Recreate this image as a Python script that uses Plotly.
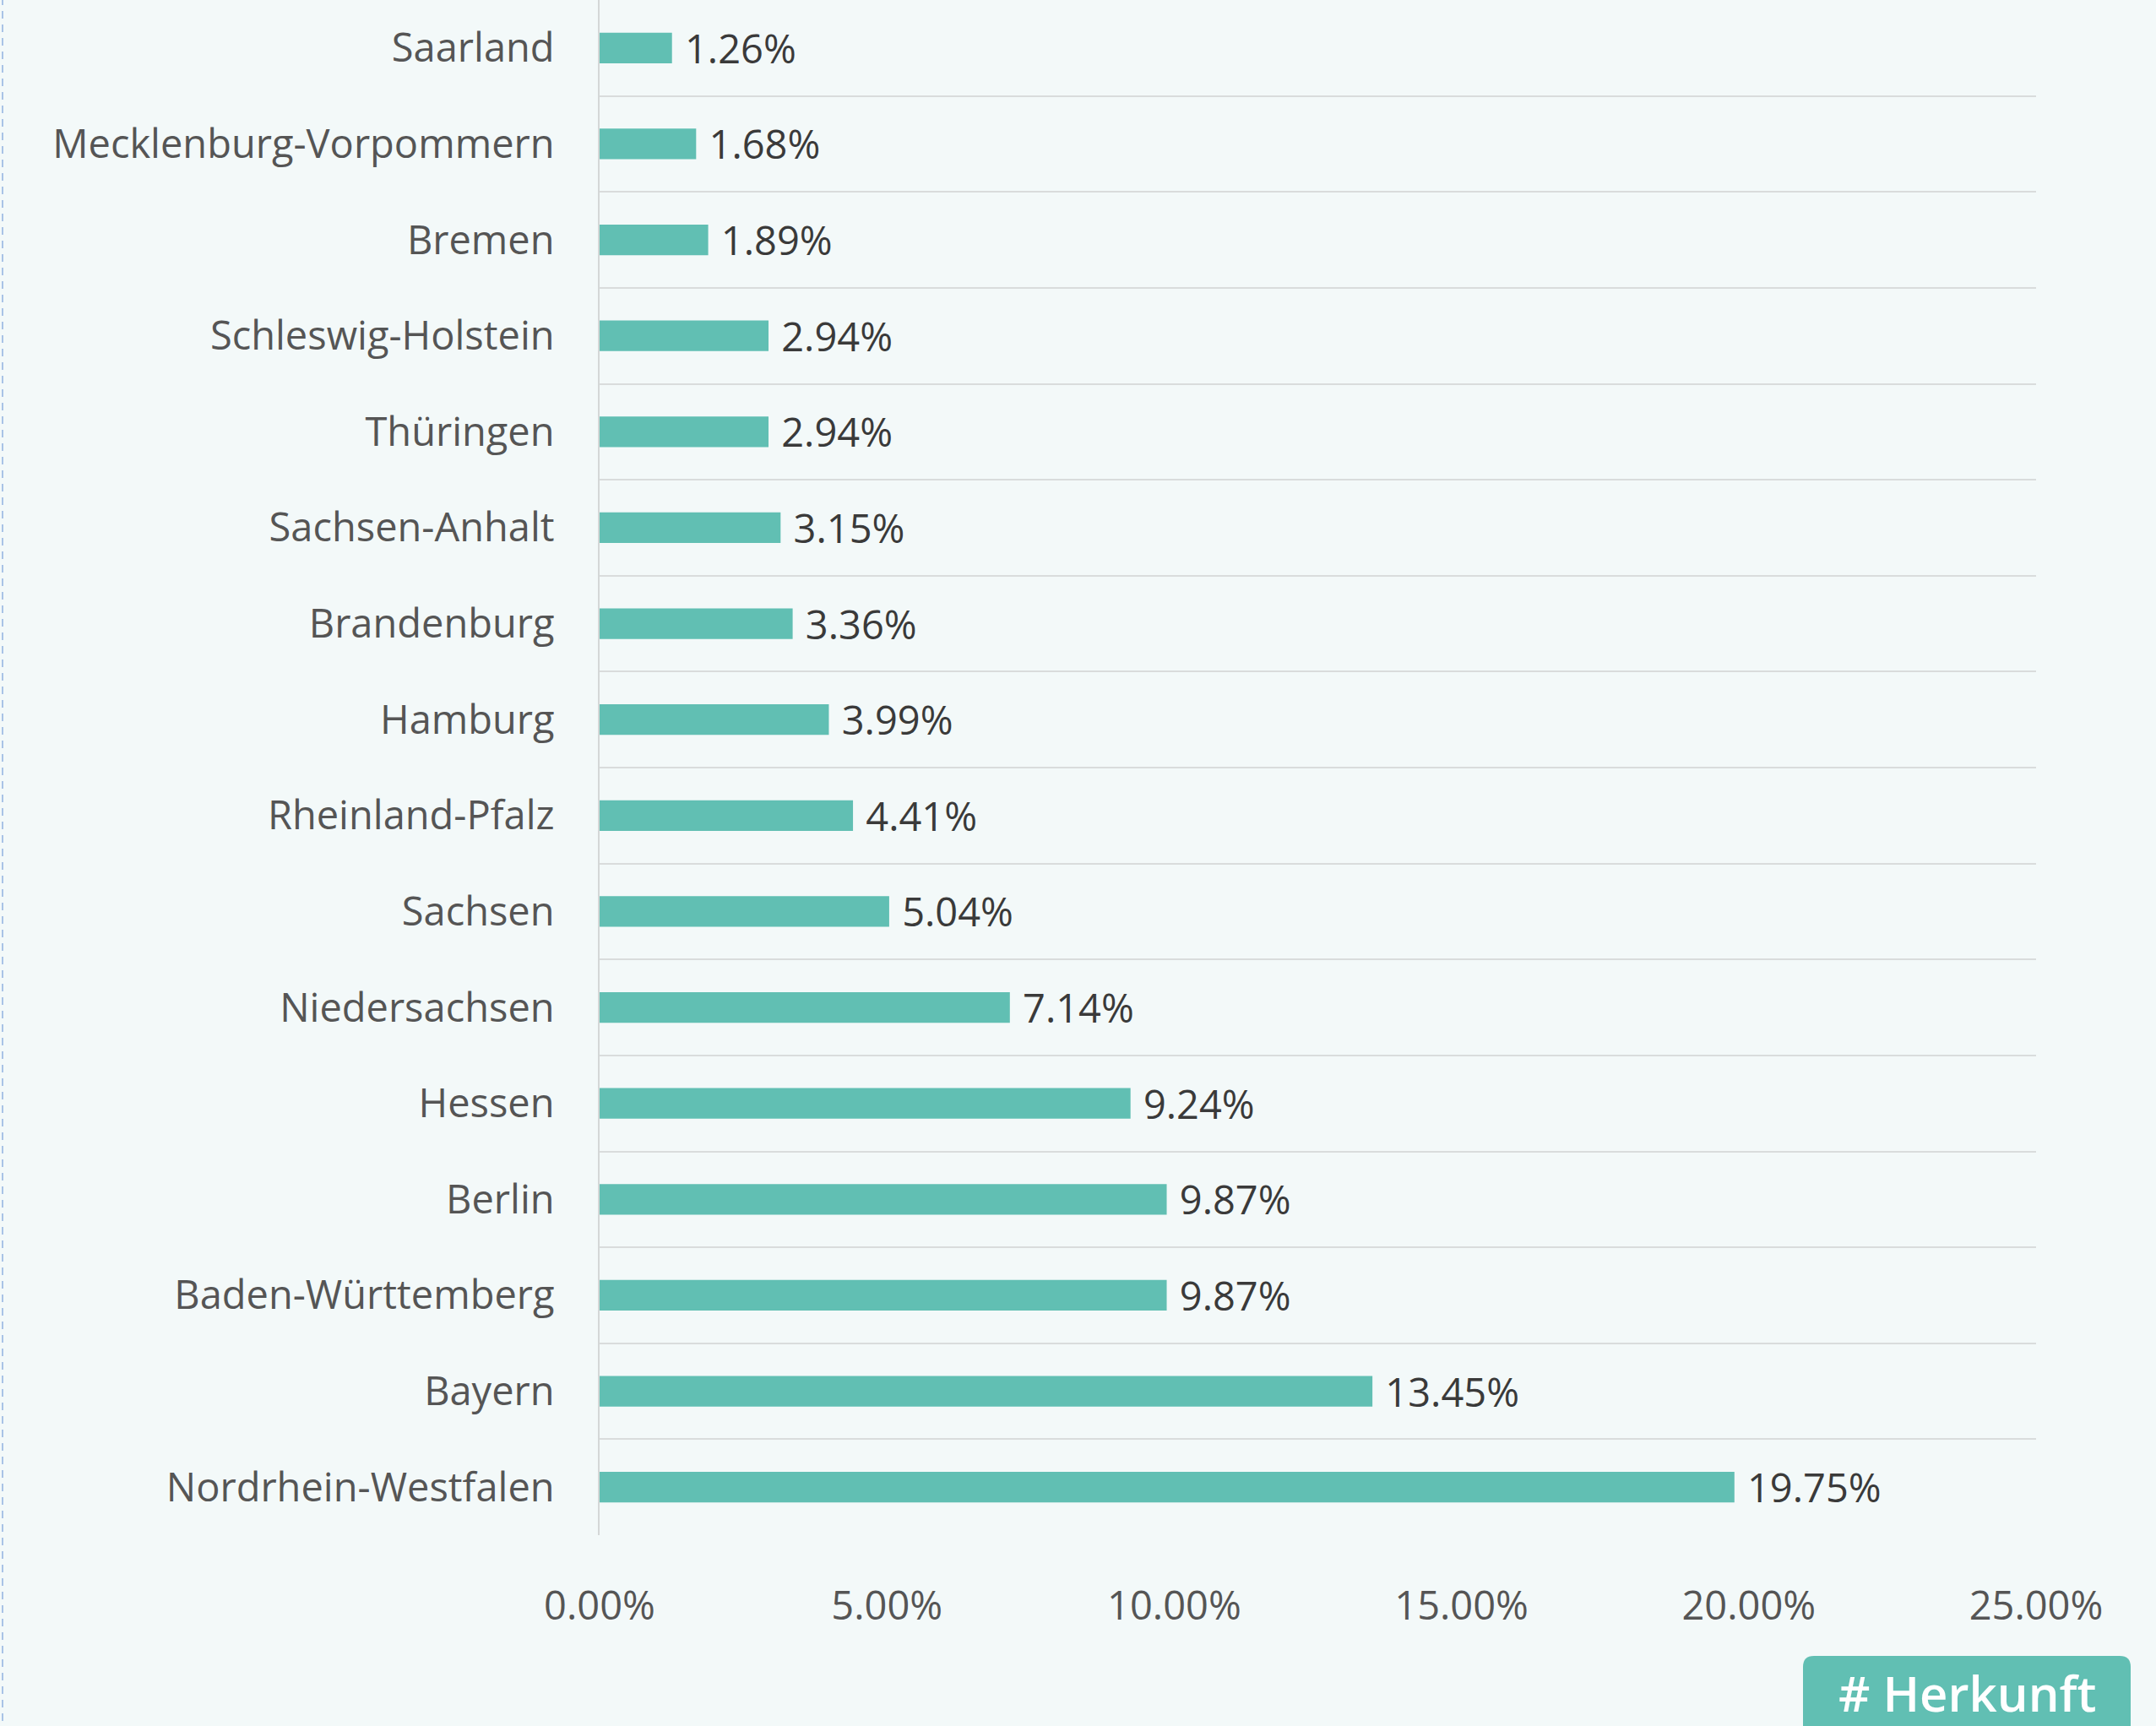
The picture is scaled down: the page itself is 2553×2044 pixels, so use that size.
import plotly.graph_objects as go

# ---- data ----
states = [
    "Saarland", "Mecklenburg-Vorpommern", "Bremen", "Schleswig-Holstein",
    "Thüringen", "Sachsen-Anhalt", "Brandenburg", "Hamburg",
    "Rheinland-Pfalz", "Sachsen", "Niedersachsen", "Hessen", "Berlin",
    "Baden-Württemberg", "Bayern", "Nordrhein-Westfalen",
]
shares = [1.26, 1.68, 1.89, 2.94, 2.94, 3.15, 3.36, 3.99,
          4.41, 5.04, 7.14, 9.24, 9.87, 9.87, 13.45, 19.75]
x_ticks = [0, 5, 10, 15, 20, 25]
x_tick_labels = ["0.00%", "5.00%", "10.00%", "15.00%", "20.00%", "25.00%"]
badge_label = "# Herkunft"

# ---- styling ----
W, H = 2553, 2044
ML, MR, MT, MB = 710, 142, 0, 226
PW, PH = W - ML - MR, H - MT - MB
BAR = "#61bfb3"
BG = "#f3f9f9"
FONT = "Open Sans"

def px_x(p):
    return (p - ML) / PW

def px_y(p):
    return (H - MB - p) / PH

fig = go.Figure(
    go.Bar(
        x=shares,
        y=states,
        orientation="h",
        marker=dict(color=BAR, line=dict(width=0)),
        texttemplate="\u00a0%{x:.2f}%",
        textposition="outside",
        constraintext="none",
        cliponaxis=False,
        textfont=dict(family=FONT, size=47, color="#3a3a3a"),
        hoverinfo="skip",
    )
)

# rounded badge
bx0, bx1, by0, by1, r = 2135, 2523, 1961, 2060, 13
x0, x1 = px_x(bx0), px_x(bx1)
y0, y1 = px_y(by1), px_y(by0)
rx, ry = r / PW, r / PH
path = (
    f"M {x0+rx},{y1} L {x1-rx},{y1} Q {x1},{y1} {x1},{y1-ry} "
    f"L {x1},{y0+ry} Q {x1},{y0} {x1-rx},{y0} L {x0+rx},{y0} "
    f"Q {x0},{y0} {x0},{y0+ry} L {x0},{y1-ry} Q {x0},{y1} {x0+rx},{y1} Z"
)

fig.update_layout(
    width=W,
    height=H,
    margin=dict(l=ML, r=MR, t=MT, b=MB, pad=0),
    paper_bgcolor=BG,
    plot_bgcolor=BG,
    bargap=0.68,
    showlegend=False,
    font=dict(family=FONT, color="#555555"),
    xaxis=dict(
        range=[0, 25],
        tickmode="array",
        tickvals=x_ticks,
        ticktext=x_tick_labels,
        showgrid=False,
        zeroline=False,
        showline=False,
        ticks="",
        ticklabelstandoff=52,
        tickfont=dict(family=FONT, size=47, color="#555555"),
        fixedrange=True,
    ),
    yaxis=dict(
        autorange="reversed",
        tickson="boundaries",
        showgrid=True,
        gridcolor="#d9dcdc",
        gridwidth=2,
        showline=True,
        linecolor="#d4d7d7",
        linewidth=2,
        zeroline=False,
        ticks="",
        ticklabelstandoff=42,
        tickfont=dict(family=FONT, size=47, color="#555555"),
        fixedrange=True,
    ),
    shapes=[
        dict(type="line", xref="paper", yref="paper",
             x0=px_x(3), x1=px_x(3), y0=px_y(H + 10), y1=px_y(-10),
             line=dict(color="#a9c3e6", width=2, dash="9px,7px"), layer="above"),
        dict(type="path", xref="paper", yref="paper", path=path,
             fillcolor=BAR, line=dict(width=0), layer="above"),
    ],
    annotations=[
        dict(text=badge_label, xref="paper", yref="paper",
             x=px_x((bx0 + bx1) / 2), y=px_y(2004),
             xanchor="center", yanchor="middle", showarrow=False,
             font=dict(family=FONT, size=58, color="white", weight=600)),
    ],
)

fig.write_html("out.html")
